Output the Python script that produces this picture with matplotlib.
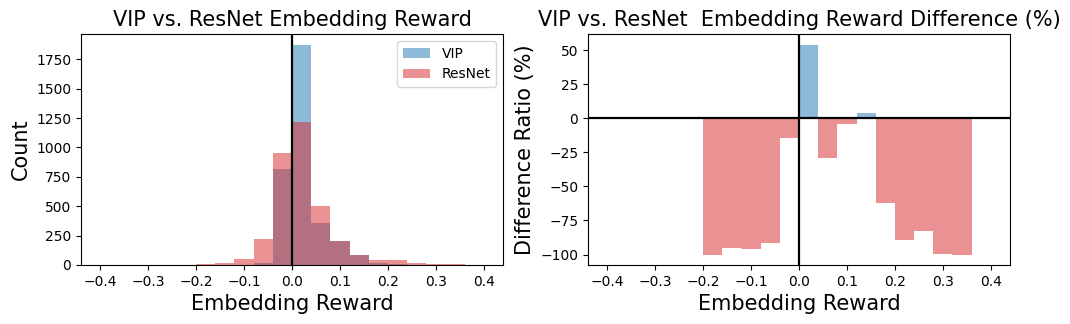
import numpy as np
import matplotlib
matplotlib.use('Agg')
import matplotlib.pyplot as plt

#bin edges, 20 bins of 0.04 between -0.4 and 0.4
edges = np.round(np.linspace(-0.4, 0.4, 21), 2)

#histogram counts per bin
vip_counts = [0, 0, 0, 0, 0, 0, 1, 3, 20, 818, 1871, 359, 201, 88, 16, 5, 3, 0, 0, 0]
resnet_counts = [0, 0, 0, 0, 0, 10, 20, 54, 224, 953, 1217, 504, 207, 85, 42, 42, 17, 8, 8, 0]

#difference ratio (%) per bin, right panel
diff_pct = [0, 0, 0, 0, 0, -100, -95, -96.3, -91.6, -14.5, 54.4, -29.2, -4.2, 3.7, -61.8, -89.7, -82.4, -99.8, -100, 0]

centers = (edges[:-1] + edges[1:]) / 2

fig = plt.figure(figsize=(10.7, 3.24), dpi=100)
ax1 = fig.add_axes([81/1070, 1 - 265/324, 422/1070, 231/324])
ax2 = fig.add_axes([588/1070, 1 - 265/324, 422/1070, 231/324])

ax1.hist(centers, bins=edges, weights=vip_counts, color='tab:blue', alpha=0.5, label='VIP')
ax1.hist(centers, bins=edges, weights=resnet_counts, color='tab:red', alpha=0.5, label='ResNet')
ax1.axvline(0, color='k', lw=1.6)
ax1.set_title('VIP vs. ResNet Embedding Reward', fontsize=15)
ax1.set_xlabel('Embedding Reward', fontsize=15)
ax1.set_ylabel('Count', fontsize=15)
ax1.legend(loc='upper right')

diff = np.array(diff_pct)
colors = ['tab:blue' if d > 0 else 'tab:red' for d in diff]
ax2.bar(edges[:-1], diff, width=0.04, align='edge', color=colors, alpha=0.5)
ax2.axhline(0, color='k', lw=1.6)
ax2.axvline(0, color='k', lw=1.6)
ax2.set_title('VIP vs. ResNet  Embedding Reward Difference (%)', fontsize=15)
ax2.set_xlabel('Embedding Reward', fontsize=15)
ax2.set_ylabel('Difference Ratio (%)', fontsize=15)

for ax in (ax1, ax2):
    ax.set_xticks(np.round(np.arange(-0.4, 0.41, 0.1), 1))

fig.savefig('out.png', dpi=100)
